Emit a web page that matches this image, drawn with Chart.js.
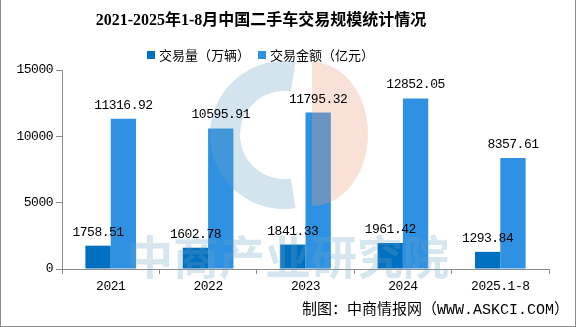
<!DOCTYPE html>
<html>
<head>
<meta charset="utf-8">
<script src="https://cdn.jsdelivr.net/npm/chart.js@4/dist/chart.umd.min.js"></script>
<style>
  html, body { margin: 0; padding: 0; background: #fff; }
  #wrap { position: relative; width: 576px; height: 327px; box-sizing: border-box;
          border-left: 1px solid #8c8c8c; border-right: 1px solid #8c8c8c; border-bottom: 1px solid #8c8c8c; }
  canvas { position: absolute; left: -1px; top: 0; }
</style>
</head>
<body>
<div id="wrap"><canvas id="chart" width="576" height="327"></canvas></div>
<script>
const categories = ["2021", "2022", "2023", "2024", "2025.1-8"];
const volume = [1758.51, 1602.78, 1841.33, 1961.42, 1293.84];     // 交易量（万辆）
const amount = [11316.92, 10595.91, 11795.32, 12852.05, 8357.61]; // 交易金额（亿元）
const seriesNames = ["交易量（万辆）", "交易金额（亿元）"];
const yTicks = [0, 5000, 10000, 15000];

const titleText = "2021-2025年1-8月中国二手车交易规模统计情况";
const sourceText = "制图：中商情报网（WWW.ASKCI.COM）";
const colors = ["#0070c0", "#2e91e2"];
const monoFont = "'Liberation Mono', 'DejaVu Sans Mono', monospace";
const cjkFont = "'Noto Sans CJK SC', sans-serif";

// title, legend, source line, watermark and value labels
const decor = {
  id: "decor",
  beforeDraw(chart) {
    // narrow the mono digits a little
    chart.ctx.letterSpacing = "-0.5px";
  },
  afterDatasetsDraw(chart) {
    const ctx = chart.ctx;
    ctx.save();
    // pale company logo behind the labels
    ctx.fillStyle = "rgba(108,165,198,0.3)";
    ctx.beginPath();
    ctx.arc(284, 135, 74, Math.PI * 0.45, Math.PI * 1.55, false);
    ctx.arc(284, 135, 44, Math.PI * 1.55, Math.PI * 0.45, true);
    ctx.closePath();
    ctx.fill();
    ctx.fillStyle = "rgba(238,155,122,0.3)";
    ctx.beginPath();
    ctx.ellipse(312, 134, 56, 72, 0, -Math.PI / 2, Math.PI / 2, false);
    ctx.closePath();
    ctx.fill();
    ctx.fillStyle = "rgba(108,165,198,0.28)";
    ctx.letterSpacing = "0px";
    ctx.font = "bold 46px " + cjkFont;
    ctx.textAlign = "center";
    ctx.textBaseline = "middle";
    ctx.fillText("中商产业研究院", 288, 257);
    ctx.restore();
  },
  afterDraw(chart) {
    const ctx = chart.ctx;
    ctx.save();
    ctx.letterSpacing = "0px";
    ctx.fillStyle = "#000";
    ctx.textBaseline = "middle";
    ctx.textAlign = "center";
    ctx.font = "bold 16px 'Liberation Serif', " + cjkFont;
    ctx.fillText(titleText, 261, 21);

    // legend
    ctx.font = "13px " + cjkFont;
    ctx.textAlign = "left";
    const legendX = [147, 258];
    seriesNames.forEach((name, i) => {
      ctx.fillStyle = colors[i];
      ctx.fillRect(legendX[i], 51, 8, 8);
      ctx.fillStyle = "#000";
      ctx.fillText(name, legendX[i] + 12, 55);
    });

    // source line, squeezed into its slot
    ctx.font = "15px 'Liberation Mono', " + cjkFont;
    ctx.textAlign = "left";
    ctx.fillText(sourceText, 302, 310, 270);

    // values above the bars
    ctx.letterSpacing = "-0.5px";
    ctx.font = "13px " + monoFont;
    ctx.textAlign = "center";
    ctx.textBaseline = "alphabetic";
    chart.data.datasets.forEach((ds, i) => {
      chart.getDatasetMeta(i).data.forEach((bar, j) => {
        ctx.fillText(ds.data[j].toFixed(2), bar.x, bar.y - 10);
      });
    });
    ctx.restore();
  }
};

new Chart(document.getElementById("chart"), {
  type: "bar",
  data: {
    labels: categories,
    datasets: [
      { label: seriesNames[0], data: volume, backgroundColor: colors[0] },
      { label: seriesNames[1], data: amount, backgroundColor: colors[1] }
    ]
  },
  options: {
    responsive: false,
    animation: false,
    layout: { padding: { top: 70, right: 27, left: 0, bottom: 0 } },
    datasets: { bar: { categoryPercentage: 0.52, barPercentage: 1 } },
    plugins: { legend: { display: false }, title: { display: false }, tooltip: { enabled: false } },
    scales: {
      x: {
        afterFit(scale) { scale.height = 58; },
        grid: { display: true, drawOnChartArea: false, offset: true, color: "#8c8c8c", tickLength: 5 },
        border: { color: "#8c8c8c" },
        ticks: { color: "#000", font: { family: monoFont, size: 13 }, padding: 5 }
      },
      y: {
        min: 0,
        max: 15000,
        afterFit(scale) { scale.width = 62; },
        afterBuildTicks(scale) { scale.ticks = yTicks.map(v => ({ value: v })); },
        grid: { display: true, drawOnChartArea: false, color: "#8c8c8c", tickLength: 6 },
        border: { color: "#8c8c8c" },
        ticks: { color: "#000", font: { family: monoFont, size: 13 }, padding: 3, callback: v => String(v) }
      }
    }
  },
  plugins: [decor]
});
</script>
</body>
</html>
